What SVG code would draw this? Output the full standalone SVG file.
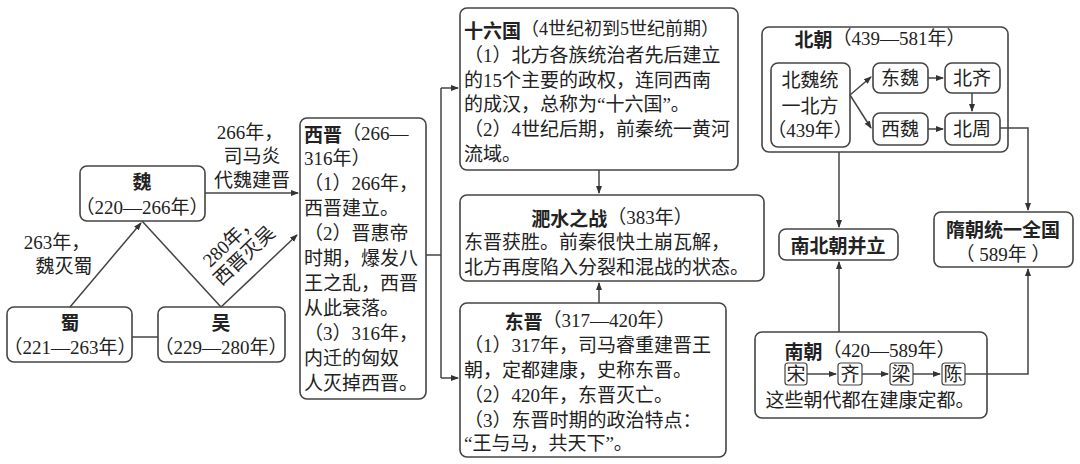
<svg xmlns="http://www.w3.org/2000/svg" width="1080" height="464" viewBox="0 0 1080 464">
<defs>
<style>
rect{fill:#fff;stroke:#444;stroke-width:1.6}
.c path,.c line{fill:none;stroke:#444;stroke-width:1.5}
text{font-family:"Liberation Serif","Noto Sans CJK SC",serif;font-size:19px;fill:#222;dominant-baseline:central}
.m{text-anchor:middle}
.b{font-family:"Noto Sans CJK SC",sans-serif;font-weight:bold}
</style>
<marker id="a" markerWidth="8" markerHeight="8" refX="7" refY="4" orient="auto" markerUnits="userSpaceOnUse"><path d="M0,1 L8,4 L0,7z" fill="#333"/></marker>
</defs>
<text class="m" x="57" y="242">263年，</text>
<text class="m" x="64" y="266">魏灭蜀</text>
<text class="m" x="250" y="132">266年，</text>
<text class="m" x="252" y="156">司马炎</text>
<text class="m" x="252" y="180">代魏建晋</text>
<g transform="translate(256,268) rotate(-43.5)"><text class="m" x="0" y="-38">280年，</text><text class="m" x="0" y="-17">西晋灭吴</text></g>
<g id="wei"><rect x="80" y="166" width="125" height="55" rx="7"/><text class="m b" x="142" y="180">魏</text><text class="m" x="142" y="207">（220—266年）</text></g>
<g id="shu"><rect x="7" y="307" width="125" height="55" rx="7"/><text class="m b" x="70" y="321">蜀</text><text class="m" x="70" y="347">（221—263年）</text></g>
<g id="wu"><rect x="158" y="307" width="127" height="55" rx="7"/><text class="m b" x="221" y="321">吴</text><text class="m" x="221" y="347">（229—280年）</text></g>
<g id="xijin"><rect x="300" y="118" width="126" height="281" rx="7"/>
<text x="304" y="133"><tspan class="b">西晋</tspan>（266—</text>
<text x="304" y="158">316年）</text>
<text x="304" y="183">（1）266年，</text>
<text x="304" y="208">西晋建立。</text>
<text x="304" y="233">（2）晋惠帝</text>
<text x="304" y="258">时期，爆发八</text>
<text x="304" y="283">王之乱，西晋</text>
<text x="304" y="308">从此衰落。</text>
<text x="304" y="333">（3）316年，</text>
<text x="304" y="358">内迁的匈奴</text>
<text x="304" y="383">人灭掉西晋。</text></g>
<g id="shiliuguo"><rect x="460" y="8" width="278" height="162" rx="7"/>
<text x="464" y="29"><tspan class="b">十六国</tspan><tspan font-size="18">（4世纪初到5世纪前期）</tspan></text>
<text x="464" y="55">（1）北方各族统治者先后建立</text>
<text x="464" y="80">的15个主要的政权，连同西南</text>
<text x="464" y="104">的成汉，总称为“十六国”。</text>
<text x="464" y="129">（2）4世纪后期，前秦统一黄河</text>
<text x="464" y="154">流域。</text></g>
<g id="feishui"><rect x="460" y="195" width="304" height="86" rx="7"/>
<text class="m" x="612" y="217"><tspan class="b">淝水之战</tspan>（383年）</text>
<text x="464" y="242">东晋获胜。前秦很快土崩瓦解，</text>
<text x="464" y="267">北方再度陷入分裂和混战的状态。</text></g>
<g id="dongjin"><rect x="460" y="303" width="266" height="154" rx="7"/>
<text class="m" x="590" y="320"><tspan class="b">东晋</tspan>（317—420年）</text>
<text x="464" y="345">（1）317年，司马睿重建晋王</text>
<text x="464" y="370">朝，定都建康，史称东晋。</text>
<text x="464" y="395">（2）420年，东晋灭亡。</text>
<text x="464" y="420">（3）东晋时期的政治特点：</text>
<text x="464" y="443">“王与马，共天下”。</text></g>
<g id="beichao"><rect x="762" y="27" width="246" height="125" rx="7"/>
<text class="m" x="880" y="38"><tspan class="b">北朝</tspan>（439—581年）</text>
<rect x="771" y="63" width="79" height="84" rx="7"/>
<text class="m" x="810" y="80">北魏统</text><text class="m" x="810" y="106">一北方</text><text class="m" x="810" y="130">（439年）</text>
<rect x="873" y="63" width="55" height="30" rx="7"/><text class="m" x="900" y="78">东魏</text>
<rect x="945" y="63" width="55" height="30" rx="7"/><text class="m" x="972" y="78">北齐</text>
<rect x="873" y="113" width="55" height="32" rx="7"/><text class="m" x="900" y="129">西魏</text>
<rect x="945" y="113" width="55" height="32" rx="7"/><text class="m" x="972" y="129">北周</text></g>
<g id="nanbeichao"><rect x="779" y="229" width="119" height="31" rx="7"/><text class="m b" x="838" y="244">南北朝并立</text></g>
<g id="sui"><rect x="934" y="212" width="139" height="55" rx="7"/><text class="m b" x="1003" y="228">隋朝统一全国</text><text class="m" x="1003" y="254">（ 589年 ）</text></g>
<g id="nanchao"><rect x="755" y="332" width="232" height="86" rx="7"/>
<text class="m" x="870" y="350"><tspan class="b">南朝</tspan>（420—589年）</text>
<rect x="785" y="363" width="22" height="22" rx="3" style="stroke-width:1.2"/><text class="m" x="796" y="374">宋</text>
<rect x="838" y="363" width="24" height="22" rx="3" style="stroke-width:1.2"/><text class="m" x="850" y="374">齐</text>
<rect x="890" y="363" width="23" height="22" rx="3" style="stroke-width:1.2"/><text class="m" x="901" y="374">梁</text>
<rect x="942" y="363" width="23" height="22" rx="3" style="stroke-width:1.2"/><text class="m" x="953" y="374">陈</text>
<text class="m" x="870" y="400">这些朝代都在建康定都。</text></g>
<g class="c">
<line x1="70" y1="307" x2="141" y2="223" marker-end="url(#a)"/>
<line x1="221" y1="307" x2="142" y2="221"/>
<line x1="221" y1="307" x2="297" y2="235" marker-end="url(#a)"/>
<line x1="205" y1="193" x2="298" y2="193" marker-end="url(#a)"/>
<line x1="132" y1="337" x2="158" y2="337"/>
<path d="M426,255 H441"/>
<path d="M441,88 V378"/>
<line x1="441" y1="88" x2="458" y2="88" marker-end="url(#a)"/>
<line x1="441" y1="378" x2="458" y2="378" marker-end="url(#a)"/>
<line x1="599" y1="170" x2="599" y2="193" marker-end="url(#a)"/>
<line x1="599" y1="303" x2="599" y2="283" marker-end="url(#a)"/>
<line x1="850" y1="95" x2="871" y2="77" marker-end="url(#a)"/>
<line x1="850" y1="95" x2="871" y2="128" marker-end="url(#a)"/>
<line x1="928" y1="78" x2="943" y2="78" marker-end="url(#a)"/>
<line x1="928" y1="129" x2="943" y2="129" marker-end="url(#a)"/>
<line x1="972" y1="93" x2="972" y2="111" marker-end="url(#a)"/>
<path d="M1000,128 H1028 V210" marker-end="url(#a)"/>
<path d="M965,374 H1028 V269" marker-end="url(#a)"/>
<line x1="839" y1="152" x2="839" y2="227" marker-end="url(#a)"/>
<line x1="839" y1="332" x2="839" y2="262" marker-end="url(#a)"/>
<line x1="807" y1="374" x2="836" y2="374" marker-end="url(#a)"/>
<line x1="862" y1="374" x2="888" y2="374" marker-end="url(#a)"/>
<line x1="913" y1="374" x2="940" y2="374" marker-end="url(#a)"/>
</g>
</svg>
